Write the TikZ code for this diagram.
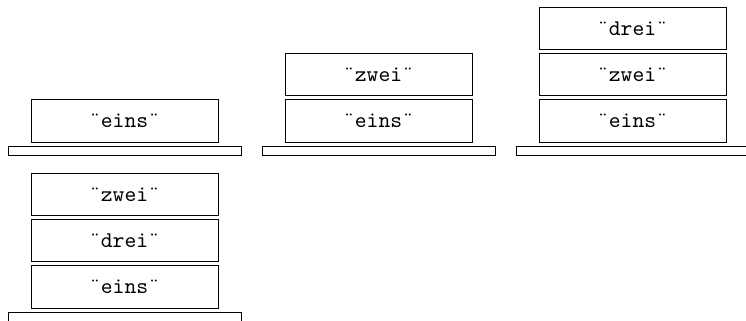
\documentclass[tikz,border=0pt]{standalone}
\usepackage{tikz}
\usetikzlibrary{positioning}

\begin{document}
\begin{tikzpicture}[x=0.4445pt, y=0.4445pt,
		card/.style={draw, minimum width=83.1pt, minimum height=19pt, inner sep=0pt, font=\ttfamily},
		bar/.style={draw, minimum width=103.6pt, minimum height=4.4pt, inner sep=0pt},
		node distance=1.1pt]
		\useasboundingbox (0,0) rectangle (746,320);
		
		% erster Stapel
		\node[bar] (baseA) at (124.5,169) {};
		\node[card, above=1.4pt of baseA] (einsA) {¨eins¨};
		
		% zweiter Stapel
		\node[bar] (baseB) at (378.5,169) {};
		\node[card, above=1.4pt of baseB] (einsB) {¨eins¨};
		\node[card, above=of einsB] (zweiB) {¨zwei¨};
		
		% dritter Stapel
		\node[bar] (baseC) at (632.5,169) {};
		\node[card, above=1.4pt of baseC] (einsC) {¨eins¨};
		\node[card, above=of einsC] (zweiC) {¨zwei¨};
		\node[card, above=of zweiC] (dreiC) {¨drei¨};
		
		% vierter Stapel
		\node[bar] (baseD) at (124.5,3) {};
		\node[card, above=1.4pt of baseD] (einsD) {¨eins¨};
		\node[card, above=of einsD] (dreiD) {¨drei¨};
		\node[card, above=of dreiD] (zweiD) {¨zwei¨};
		
	\end{tikzpicture}
\end{document}
